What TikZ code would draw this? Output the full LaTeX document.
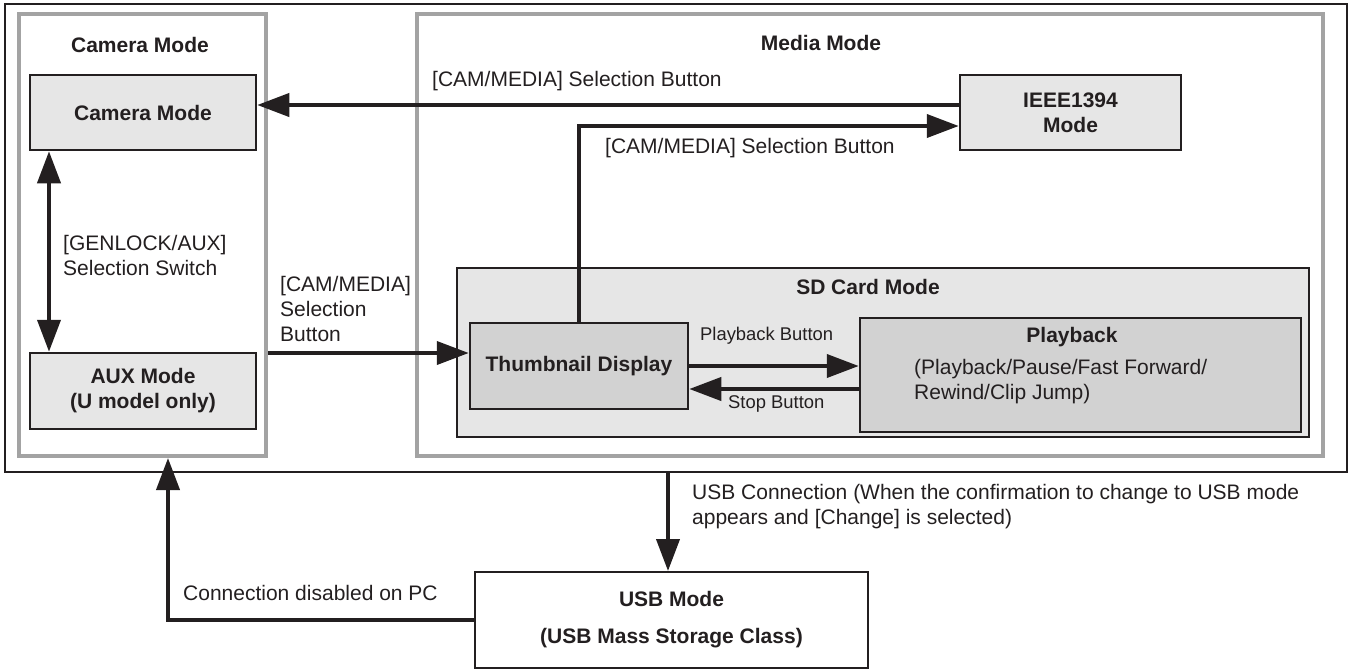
\documentclass[tikz,border=0pt]{standalone}
\usepackage{fontspec}
\setmainfont{Liberation Sans}
\usetikzlibrary{arrows.meta,calc}
\definecolor{panelgray}{HTML}{A3A3A3}
\definecolor{ink}{HTML}{231F20}
\definecolor{lightfill}{HTML}{E6E6E6}
\definecolor{darkfill}{HTML}{D2D2D2}
\begin{document}
\begin{tikzpicture}[x=1pt,y=-1pt,
  every node/.style={font=\fontsize{21}{25}\selectfont, inner sep=0pt, text=ink},
  panel/.style={draw=panelgray, line width=4.5pt},
  modebox/.style={draw=ink, line width=2.5pt, fill=lightfill, align=center, font=\bfseries\fontsize{21}{25}\selectfont},
  darkbox/.style={draw=ink, line width=2.5pt, fill=darkfill, align=center, font=\bfseries\fontsize{21}{25}\selectfont},
  title/.style={font=\bfseries\fontsize{21}{25}\selectfont},
  lbl/.style={anchor=west, align=left},
  small/.style={anchor=west, font=\fontsize{18.4}{22}\selectfont},
  arr/.style={line width=4pt, draw=ink, -{Triangle[length=32pt,width=23pt]}},
  darr/.style={line width=4pt, draw=ink, {Triangle[length=32pt,width=23pt]}-{Triangle[length=32pt,width=23pt]}}]
\useasboundingbox (0,0) rectangle (1350,670);
% outer frame
\node[draw=ink, line width=2pt, minimum width=1342pt, minimum height=468pt] (outer) at (676,237.5) {};
% panels
\node[panel, minimum width=247pt, minimum height=442pt] (campanel) at (142.5,235) {};
\node[panel, minimum width=906pt, minimum height=442pt] (mediapanel) at (870,235) {};
\node[title] (camtitle) at (140,45) {Camera Mode};
\node[title] (mediatitle) at (821,43) {Media Mode};
% boxes
\node[modebox, minimum width=226pt, minimum height=75pt] (cam) at (143,112.5) {Camera Mode};
\node[modebox, minimum width=226pt, minimum height=76pt] (aux) at (143,391) {AUX Mode\\(U model only)};
\node[modebox, minimum width=221pt, minimum height=75pt] (ieee) at (1070.5,112.5) {IEEE1394\\Mode};
\node[draw=ink, line width=2pt, fill=lightfill, minimum width=852pt, minimum height=169pt] (sd) at (883,352.5) {};
\node[title] (sdtitle) at (868,287) {SD Card Mode};
\node[darkbox, minimum width=218pt, minimum height=86pt] (thumb) at (579,366) {Thumbnail Display};
\node[darkbox, minimum width=441pt, minimum height=114pt] (play) at (1080.5,375) {};
\node[title] (playtitle) at (1072,337) {Playback};
\node[lbl] (playtext) at (914,382) {(Playback/Pause/Fast Forward/\\Rewind/Clip Jump)};
\node[draw=ink, line width=2pt, fill=white, minimum width=393pt, minimum height=96pt, align=center, font=\bfseries\fontsize{21}{25}\selectfont] (usb) at (671.5,620) {USB Mode\\[12pt](USB Mass Storage Class)};
% coordinates
\coordinate (yA) at (0,105);
\coordinate (yB) at (0,126);
\coordinate (yC) at (0,353);
\coordinate (yD) at (0,389);
\coordinate (xG) at (49,0);
\coordinate (xU) at (668,0);
\coordinate (pcEnd) at (168,458);
% connectors
\draw[arr] (ieee.west |- yA) -- (cam.east |- yA);
\draw[arr] (thumb.north) |- (ieee.west |- yB);
\draw[darr] (cam.south -| xG) -- (aux.north -| xG);
\draw[arr] (campanel.east |- yC) -- (thumb.west |- yC);
\draw[arr] (thumb.east) -- (play.west |- thumb.east);
\draw[arr] (play.west |- yD) -- (thumb.east |- yD);
\draw[arr] (outer.south -| xU) -- (usb.north -| xU);
\draw[arr] (usb.west) -| (pcEnd);
% labels
\node[lbl] (l1) at (432,81) {[CAM/MEDIA] Selection Button};
\node[lbl] (l2) at (605,148) {[CAM/MEDIA] Selection Button};
\node[lbl] (l3) at (63,255) {[GENLOCK/AUX]\\Selection Switch};
\node[lbl] (l4) at (280,309) {[CAM/MEDIA]\\Selection\\Button};
\node[small] (l5) at (700,336) {Playback Button};
\node[small] (l6) at (728,404) {Stop Button};
\node[lbl] (l7) at (692,507) {USB Connection (When the confirmation to change to USB mode\\appears and [Change] is selected)};
\node[lbl] (l8) at (183,593) {Connection disabled on PC};
\end{tikzpicture}
\end{document}
